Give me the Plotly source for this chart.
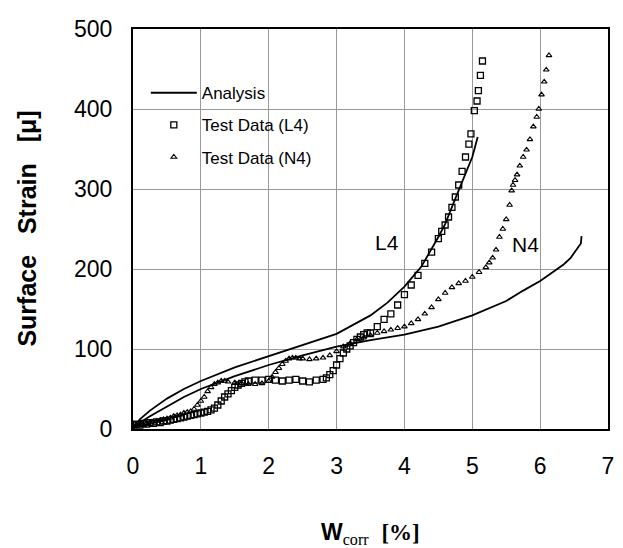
import plotly.graph_objects as go

# Analysis curves
ana_l4_x = [0.0, 0.1, 0.25, 0.5, 0.75, 1.0, 1.5, 2.0, 2.5, 3.0, 3.5, 3.75, 4.0, 4.25, 4.5, 4.6, 4.75, 4.9, 5.0, 5.08]
ana_l4_y = [0, 12, 23, 38, 50, 60, 77, 91, 105, 119, 142, 158, 178, 203, 240, 256, 288, 318, 340, 365]

ana_n4_x = [0.0, 0.1, 0.25, 0.5, 0.75, 1.0, 1.5, 2.0, 2.5, 3.0, 3.5, 4.0, 4.5, 5.0, 5.5, 5.75, 6.0, 6.2, 6.35, 6.45, 6.5, 6.55, 6.6, 6.61]
ana_n4_y = [0, 8, 16, 28, 40, 50, 66, 80, 92, 103, 111, 118, 128, 142, 160, 173, 185, 197, 206, 214, 220, 226, 232, 241]

# Test data L4 (squares)
l4_x = [0.0, 0.05, 0.1, 0.15, 0.2, 0.25, 0.3, 0.35, 0.4, 0.45,
        0.5, 0.55, 0.6, 0.65, 0.7, 0.75, 0.8, 0.85, 0.9, 0.95,
        1.0, 1.05, 1.1, 1.15, 1.2, 1.25, 1.3, 1.35, 1.4, 1.45,
        1.5, 1.55, 1.6, 1.65, 1.7, 1.8, 1.9, 2.0, 2.1, 2.2,
        2.3, 2.4, 2.5, 2.6, 2.7, 2.8, 2.85, 2.9, 2.95, 3.0,
        3.05, 3.1, 3.15, 3.2, 3.25, 3.3, 3.35, 3.4, 3.45, 3.5,
        3.6, 3.7, 3.8, 3.9, 4.0, 4.1, 4.2, 4.3, 4.4, 4.5,
        4.55, 4.6, 4.65, 4.7, 4.75, 4.8, 4.85, 4.9, 4.95, 4.98,
        5.03, 5.07, 5.09, 5.12, 5.15]
l4_y = [5, 6, 5, 7, 6, 8, 7, 9, 8, 10,
        10, 11, 12, 13, 14, 15, 16, 17, 18, 19,
        20, 21, 22, 24, 26, 30, 35, 40, 44, 48,
        52, 55, 57, 59, 60, 61, 61, 62, 61, 60,
        61, 62, 60, 59, 61, 62, 64, 68, 73, 80,
        88, 95, 100, 104, 108, 112, 115, 118, 120, 120,
        128, 137, 144, 155, 168, 180, 192, 207, 221, 238,
        247, 255, 265, 277, 290, 305, 322, 340, 356, 369,
        398, 410, 423, 442, 460]

# Test data N4 (triangles)
n4_x = [0.0, 0.05, 0.1, 0.15, 0.2, 0.25, 0.3, 0.35, 0.4, 0.45,
        0.5, 0.55, 0.6, 0.65, 0.7, 0.75, 0.8, 0.85, 0.9, 0.95,
        1.0, 1.05, 1.1, 1.15, 1.2, 1.25, 1.3, 1.35, 1.4, 1.5,
        1.6, 1.7, 1.8, 1.9, 2.0, 2.05, 2.1, 2.15, 2.2, 2.25,
        2.3, 2.35, 2.4, 2.45, 2.5, 2.6, 2.7, 2.8, 2.9, 3.0,
        3.1, 3.2, 3.3, 3.4, 3.5, 3.6, 3.7, 3.8, 3.9, 4.0,
        4.1, 4.2, 4.3, 4.4, 4.5, 4.6, 4.7, 4.8, 4.9, 5.0,
        5.1, 5.2, 5.25, 5.3, 5.35, 5.4, 5.45, 5.5, 5.55, 5.58,
        5.6, 5.63, 5.66, 5.7, 5.75, 5.8, 5.85, 5.9, 5.95, 5.98,
        6.02, 6.06, 6.09, 6.13]
n4_y = [5, 5, 6, 6, 7, 8, 9, 10, 11, 12,
        13, 14, 16, 17, 18, 20, 21, 22, 25, 30,
        35, 40, 47, 52, 56, 58, 60, 60, 59, 58,
        57, 56, 56, 57, 60, 65, 71, 76, 81, 85,
        88, 89, 89, 88, 88, 87, 88, 89, 92, 97,
        103, 107, 112, 114, 117, 120, 122, 124, 126, 128,
        132, 137, 144, 152, 162, 170, 177, 182, 185, 190,
        196, 202, 208, 214, 224, 240, 250, 262, 280, 298,
        305, 311, 318, 329, 340, 349, 362, 378, 390, 400,
        418, 434, 449, 467]

FONT = "Liberation Sans, Arial, sans-serif"
SERIF = "Liberation Serif, Times New Roman, serif"
SP = "\u00a0\u00a0\u00a0"

fig = go.Figure()

# Analysis
fig.add_trace(go.Scatter(x=ana_l4_x, y=ana_l4_y, mode="lines", name="Analysis",
                         legendgroup="a", line=dict(color="black", width=1.8)))
fig.add_trace(go.Scatter(x=ana_n4_x, y=ana_n4_y, mode="lines", name="Analysis",
                         legendgroup="a", showlegend=False,
                         line=dict(color="black", width=1.8)))
# Test data
fig.add_trace(go.Scatter(x=l4_x, y=l4_y, mode="markers", name="Test Data (L4)",
                         legendgroup="b",
                         marker=dict(symbol="square-open", size=6, color="black",
                                     line=dict(width=1.3))))
fig.add_trace(go.Scatter(x=n4_x, y=n4_y, mode="markers", name="Test Data (N4)",
                         legendgroup="c",
                         marker=dict(symbol="triangle-up-open", size=5, color="black",
                                     line=dict(width=1.1))))

# make look pretty  (page has an 8px body margin, so the figure is 8px smaller)
fig.update_layout(
    width=615, height=540,
    margin=dict(l=124.5, r=8.5, t=11.5, b=118.7),
    paper_bgcolor="white", plot_bgcolor="white",
    font=dict(family=FONT, color="black"),
    showlegend=True,
    legend=dict(x=0.027, y=0.8845, xanchor="left", yanchor="top",
                bgcolor="rgba(0,0,0,0)", font=dict(size=17),
                tracegroupgap=7, itemwidth=46),
)
fig.update_xaxes(range=[0, 7], dtick=1, showgrid=True, gridcolor="#9a9a9a", gridwidth=1,
                 showline=True, linecolor="black", linewidth=2, mirror=True,
                 ticks="outside", ticklen=15, tickcolor="rgba(0,0,0,0)",
                 tickfont=dict(size=23), zeroline=False, ticklabeloverflow="allow")
fig.update_yaxes(range=[0, 500], dtick=100, showgrid=True, gridcolor="#9a9a9a", gridwidth=1,
                 showline=True, linecolor="black", linewidth=2, mirror=True,
                 ticks="outside", ticklen=14, tickcolor="rgba(0,0,0,0)",
                 tickfont=dict(size=23), zeroline=False, ticklabeloverflow="allow")

# labels on curves
fig.add_annotation(x=3.75, y=233, text="L4", showarrow=False, font=dict(size=21))
fig.add_annotation(x=5.79, y=231, text="N4", showarrow=False, font=dict(size=21))

# axis titles
fig.add_annotation(xref="paper", yref="paper", x=-0.224, y=0.5, xanchor="center", yanchor="middle",
                   textangle=-90,
                   text="<b>Surface" + SP + "Strain" + SP + "[\u03bc]</b>",
                   showarrow=False, font=dict(size=25))
fig.add_annotation(xref="paper", yref="paper", x=0.5, y=-0.262, xanchor="center", yanchor="middle",
                   text="<b>W</b><sub><span style=\"font-family:" + SERIF + "\">corr</span></sub>"
                        "\u00a0\u00a0<b><span style=\"font-family:" + SERIF + "\">[%]</span></b>",
                   showarrow=False, font=dict(size=23))

fig.write_html("out.html")
